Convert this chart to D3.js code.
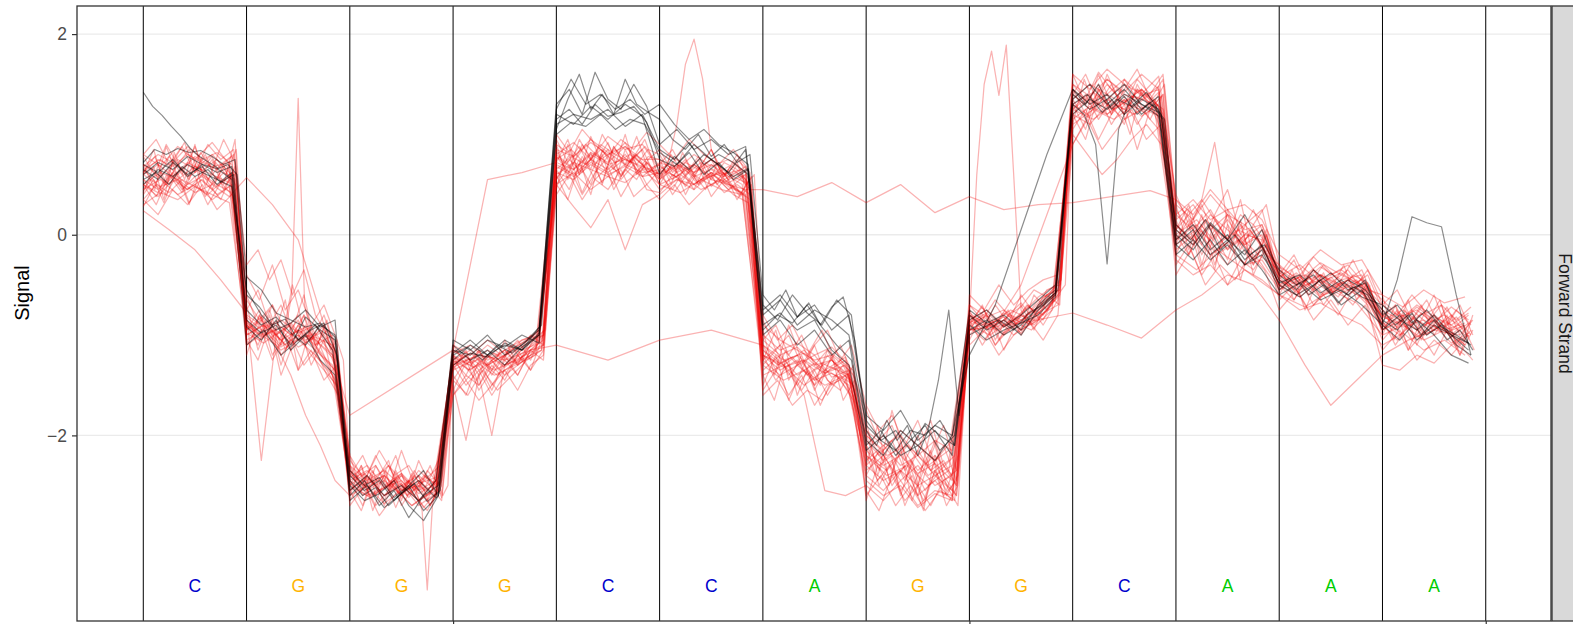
<!DOCTYPE html>
<html>
<head>
<meta charset="utf-8">
<script src="https://cdn.jsdelivr.net/npm/d3@7"></script>
<style>
  html, body { margin: 0; padding: 0; background: #fff; }
  svg { display: block; font-family: "Liberation Sans", Arial, Helvetica, sans-serif; }
</style>
</head>
<body>
<div id="chart"></div>
<script>
// reference sequence shown under the signal
const bases = ["C", "G", "G", "G", "C", "C", "A", "G", "G", "C", "A", "A", "A"];
const baseColors = { A: "#00CC00", C: "#0000CC", G: "#FFB300", T: "#CC0000" };
const yTicks = [-2, 0, 2];
const xTicks = [3, 8, 13];
const strandLabel = "Forward Strand";

// one entry per read, one inner array of raw signal per base
const blackReads = [
  [[1.42,1.28,1.19,1.08,0.98,0.86,0.78,0.72,0.66,0.7,0.6],
   [-0.42,-0.55,-0.78,-0.85,-0.92,-0.88,-1.02],
   [-2.45,-2.6,-2.52,-2.7,-2.58,-2.48,-2.66,-2.55],
   [-1.2,-1.12,-1.25,-1.1,-1.18,-1.05,-0.9],
   [1.05,1.35,1.6,1.25,1.4,1.2,1.55,1.3,1.22],
   [1.15,0.95,0.85,1.0,0.78,0.9,0.72,0.8],
   [-0.6,-0.75,-0.55,-0.82,-0.68,-0.9,-0.72,-0.62,-1.05],
   [-1.85,-2.05,-1.95,-2.15,-1.88,-2.0,-2.1],
   [-1.0,-0.92,-0.85,-0.95,-0.78,-0.7,-0.55],
   [1.45,1.3,1.5,1.25,1.38,1.2,1.32,1.15],
   [0.1,-0.05,0.15,-0.15,0.0,-0.2,-0.1],
   [-0.35,-0.5,-0.4,-0.6,-0.45,-0.55],
   [-0.75,-0.9,-0.8,-1.0,-0.85,-1.05,-0.95,-1.15]],
  [[0.72,0.85,0.8,0.86,0.82,0.84,0.78,0.7,0.75],
   [-0.6,-0.72,-0.9,-0.84,-1.05,-0.95,-0.88,-1.2],
   [-2.35,-2.5,-2.42,-2.62,-2.5,-2.75,-2.6],
   [-1.3,-1.18,-1.22,-1.08,-1.15,-1.0],
   [1.15,1.25,1.1,1.3,1.18,1.22,1.28,1.12],
   [0.75,0.68,0.82,0.6,0.72,0.55,0.65],
   [-0.95,-0.8,-0.88,-0.7,-0.92,-1.1,-1.25],
   [-2.1,-1.95,-2.2,-2.05,-1.9,-2.15,-2.0],
   [-0.9,-1.05,-0.95,-0.88,-0.8,-0.62],
   [1.3,1.4,1.22,1.35,1.28,1.42,1.2],
   [-0.1,0.05,-0.2,-0.05,-0.3,-0.15],
   [-0.55,-0.42,-0.6,-0.5,-0.68,-0.52,-0.6],
   [-0.85,-0.95,-0.78,-1.0,-0.9,-1.1,-1.2]],
  [[0.55,0.62,0.5,0.68,0.58,0.65,0.52,0.6],
   [-0.85,-0.98,-0.9,-1.1,-0.82,-0.95,-1.05],
   [-2.6,-2.45,-2.7,-2.55,-2.82,-2.6,-2.5],
   [-1.05,-1.15,-1.0,-1.2,-1.1,-0.95],
   [1.3,1.45,1.2,1.62,1.35,1.25,1.5,1.28],
   [0.9,1.05,0.85,0.95,0.8,0.88],
   [-0.7,-0.85,-0.6,-0.78,-0.9,-0.65,-0.8],
   [-1.95,-2.1,-1.85,-2.05,-1.9,-2.2,-1.95,-1.45,-0.75,-1.8],
   [-0.8,-0.95,-0.85,-1.0,-0.75,-0.6],
   [1.35,1.5,1.3,1.45,1.25,1.38],
   [0.05,-0.1,0.12,-0.05,0.2,-0.12],
   [-0.45,-0.6,-0.5,-0.38,-0.55,-0.48],
   [-0.8,-0.7,-0.88,-0.75,-0.92,-1.0,-1.1]],
  [[0.6,0.72,0.65,0.78,0.7,0.62,0.68],
   [-0.92,-1.05,-0.85,-1.15,-1.0,-1.25,-1.4],
   [-2.5,-2.65,-2.58,-2.45,-2.7,-2.85,-2.6],
   [-1.1,-1.25,-1.15,-1.3,-1.12,-1.0],
   [1.0,1.12,1.08,1.2,1.05,1.15,1.1],
   [0.82,0.7,0.9,0.75,0.62,0.85],
   [-1.0,-0.85,-1.1,-0.95,-1.2,-1.05],
   [-2.05,-2.2,-1.95,-2.1,-2.25,-2.0],
   [-1.2,-0.7,0.05,0.8],
   [1.45,1.3,1.4,1.2,1.35,1.25],
   [-0.05,0.1,-0.15,0.0,-0.25,-0.1],
   [-0.5,-0.62,-0.45,-0.7,-0.55],
   [-0.9,-1.05,-0.85,-1.0,-1.2,-1.28]],
  [[0.7,0.62,0.75,0.58,0.7,0.66,0.55],
   [-1.1,-0.95,-1.2,-1.05,-0.9,-1.15],
   [-2.4,-2.55,-2.45,-2.65,-2.5,-2.35,-2.6],
   [-1.18,-1.05,-1.2,-1.1,-1.15,-0.98],
   [1.2,1.1,1.28,1.15,1.3,1.18],
   [0.6,0.78,0.65,0.8,0.7,0.58,0.66],
   [-0.8,-0.65,-0.9,-0.75,-0.85,-1.0],
   [-1.9,-2.05,-2.15,-1.95,-2.0,-1.85,-2.1],
   [-0.85,-0.75,-0.92,-0.8,-0.65,-0.5],
   [1.3,1.2,0.9,-0.29,1.05,1.35,1.2,1.3,1.15],
   [0.0,-0.15,0.1,-0.05,-0.2,0.05],
   [-0.4,-0.55,-0.35,-0.5,-0.6,-0.45],
   [-0.95,-0.8,-1.05,-0.9,-1.0,-1.15]],
  [[0.65,0.55,0.72,0.6,0.68,0.5,0.62],
   [-0.75,-0.9,-0.82,-0.98,-1.1,-0.9,-1.0],
   [-2.55,-2.4,-2.6,-2.5,-2.65,-2.45],
   [-1.15,-1.2,-1.05,-1.12,-1.0,-1.08],
   [1.1,1.2,1.15,1.25,1.08,1.2],
   [0.85,0.75,0.92,0.7,0.8,0.72,0.6],
   [-0.9,-0.78,-0.95,-0.85,-1.15,-1.3],
   [-2.15,-2.0,-2.2,-2.1,-1.95,-2.2],
   [-0.95,-0.85,-1.0,-0.9,-0.72,-0.58],
   [1.2,1.35,1.25,1.4,1.3,1.18],
   [-0.1,-0.25,-0.05,-0.3,-0.15,-0.35],
   [-0.6,-0.48,-0.65,-0.55,-0.7],
   [-0.9,-0.45,0.18,0.12,0.08,-0.6,-1.2]],
  [[0.5,0.65,0.58,0.7,0.62,0.55,0.48],
   [-0.55,-0.8,-0.95,-0.88,-0.75,-0.92,-0.85],
   [-2.65,-2.5,-2.72,-2.58,-2.45,-2.62],
   [-1.25,-1.1,-1.2,-1.05,-1.15,-0.92],
   [1.25,1.55,1.3,1.4,1.25,1.35,1.2],
   [1.3,1.1,0.95,1.05,0.9,0.82,0.7],
   [-0.75,-0.6,-0.82,-0.7,-0.95,-0.8],
   [-1.8,-1.95,-1.75,-2.05,-1.9,-2.0],
   [-0.75,-0.88,-0.8,-0.95,-0.7,-0.55],
   [1.4,1.25,1.35,1.5,1.3,1.22],
   [-0.2,-0.05,-0.25,-0.1,-0.3,-0.2],
   [-0.48,-0.4,-0.58,-0.45,-0.62],
   [-0.7,-0.85,-0.95,-0.8,-1.0,-1.08]]
];

const redReads = [
  [[0.45,0.6,0.52,0.7,0.58,0.66,0.5,0.62,0.55],
   [-0.85,-0.95,-0.8,-1.0,-0.9,-1.05,-0.95,-0.6,1.36,-0.7,-0.98,-1.1,-0.92,-1.15,-1.05,-1.25],
   [-2.35,-2.5,-2.42,-2.3,-2.55,-2.4,-2.6,-2.45],
   [-1.3,-1.2,-1.35,-1.25,-1.15,-1.28,-1.1,-1.0],
   [0.55,0.75,0.62,0.82,0.7,0.6,0.78,0.65],
   [0.7,0.55,0.65,0.5,0.62,0.58,0.72,0.45],
   [-1.15,-1.3,-1.22,-1.4,-1.28,-1.35,-1.45],
   [-2.1,-2.3,-2.2,-2.45,-2.15,-2.35,-2.25,-2.5],
   [-0.9,-0.82,-0.95,-0.85,-0.72,-0.8,-0.6],
   [1.2,1.35,1.28,1.45,1.3,1.2,1.38],
   [0.1,-0.05,0.15,0.0,-0.1,0.05,-0.15],
   [-0.4,-0.5,-0.35,-0.55,-0.45,-0.6],
   [-0.8,-0.92,-0.75,-0.88,-0.95,-0.82,-1.0]],
  [[0.35,0.5,0.42,0.55,0.48,0.4,0.52,0.38],
   [-0.9,-1.05,-0.95,-1.1,-1.0,-1.2,-1.35,-1.5],
   [-2.3,-2.45,-2.38,-2.52,-2.4,-2.6,-2.48,-2.35,-2.55,-2.42,-2.65,-2.5,-2.38,-2.58,-2.75,-3.54,-2.7,-2.45,-2.6,-2.5],
   [-1.2,-1.35,-1.28,-1.4,-1.3,-1.22,-1.15],
   [0.8,0.68,0.9,0.75,0.85,0.72,0.95],
   [0.55,0.68,0.5,0.62,0.45,0.6],
   [-1.2,-1.35,-1.25,-1.5,-1.32,-1.4],
   [-2.3,-2.15,-2.4,-2.25,-2.55,-2.35,-2.2],
   [-0.95,-0.88,-1.0,-0.85,-0.78,-0.65],
   [1.4,1.25,1.5,1.32,1.45,1.28],
   [0.2,0.05,0.25,-0.05,0.1,-0.1],
   [-0.5,-0.38,-0.55,-0.42,-0.6,-0.48],
   [-0.9,-0.78,-0.95,-0.85,-1.02,-0.88]],
  [[0.62,0.75,0.68,0.8,0.72,0.65,0.78],
   [-0.95,-0.85,-1.0,-0.9,-1.08,-0.95,-1.15],
   [-2.5,-2.38,-2.55,-2.45,-2.62,-2.4,-2.5],
   [-1.25,-1.15,-1.3,-1.2,-1.08,-1.0],
   [0.6,0.72,0.65,0.58,0.7,0.62],
   [0.65,0.58,0.7,0.55,0.5,0.45],
   [0.45,0.38,0.52],
   [0.32,0.5,0.22],
   [0.38,0.25,0.3],
   [0.32,0.36,0.4,0.44],
   [0.35,0.1,-0.05,0.15,-0.1,0.05],
   [-0.45,-0.55,-0.4,-0.5,-0.35],
   [-0.85,-0.75,-0.9,-0.8,-0.95]],
  [[0.5,0.42,0.58,0.45,0.55,0.4,0.5],
   [-1.0,-0.9,-1.1,-0.95,-1.05,-1.2],
   [-2.4,-2.55,-2.45,-2.6,-2.35,-2.5],
   [-1.3,-1.2,-1.25,-1.15],
   [-1.1,-1.25],
   [-1.05,-0.95],
   [-1.1,-1.25,-1.18,-1.35,-1.22],
   [-2.0,-2.2,-2.1,-2.3,-2.15],
   [-0.8,-0.9,-0.75,-0.85,-0.65],
   [1.25,1.15,1.3,1.2,1.35],
   [-0.05,0.1,-0.15,0.0,-0.2],
   [-0.35,-0.48,-0.4,-0.55,-0.45],
   [-0.95,-0.85,-1.0,-0.9,-1.1]],
  [[0.6,0.48,0.55,0.42,0.5,0.38],
   [0.57,0.3,-0.05,-0.9],
   [-1.8],
   [-1.15,0.55,0.62],
   [0.72,0.65,0.8,0.7,0.75,0.68],
   [0.6,0.7,0.55,0.62,0.5],
   [-1.2,-1.3,-1.15,-1.38,-1.25],
   [-2.2,-2.35,-2.1,-2.4,-2.25],
   [-0.85,-0.95,-0.8,-0.9,-0.7],
   [1.3,1.42,1.25,1.38,1.3],
   [0.0,0.15,-0.1,0.05,-0.05],
   [-0.5,-0.4,-0.58,-0.45],
   [-0.82,-0.9,-0.78,-0.95,-0.88]],
  [[0.24,0.05,-0.15,-0.45],
   [-0.78,-2.25,-1.0,-1.15,-0.9,-1.2,-1.35],
   [-2.45,-2.6,-2.5,-2.7,-2.55],
   [-1.35,-1.25,-1.4,-1.3,-1.2],
   [0.5,0.62,0.45,0.58,0.52,0.65],
   [0.5,0.42,0.55,0.45,0.4],
   [-1.3,-1.45,-1.35,-1.5,-1.4],
   [-2.4,-2.55,-2.35,-2.6,-2.45,-2.65],
   [-0.9,-1.0,-0.85,-0.95,-0.75],
   [1.1,1.25,1.15,1.3,1.2],
   [-0.2,-0.35,-0.15,-0.3,-0.45],
   [-0.6,-0.72,-0.55,-0.68],
   [-1.0,-0.9,-1.05,-0.95,-1.1]],
  [[0.68,0.8,0.72,0.88,0.75,0.82,0.7],
   [-0.9,-1.0,-1.1,-1.4,-1.8,-2.1,-2.45],
   [-2.6,-2.5,-2.68,-2.55,-2.45,-2.6],
   [-1.5,-2.05,-1.4,-2.0,-1.3,-1.25,-1.15,-1.05],
   [0.85,0.78,0.92,0.8,0.88,0.75],
   [0.75,0.62,0.7,0.58,0.68,0.55],
   [-1.25,-1.1,-1.3,-1.2,-1.42,-1.35],
   [-2.25,-2.1,-2.3,-2.2,-2.4,-2.3],
   [-0.82,-0.92,-0.78,-0.88,-0.68,-0.52],
   [1.35,1.5,1.4,1.55,1.38,1.45],
   [0.15,0.3,0.05,0.2,-0.05,0.1],
   [-0.42,-0.3,-0.48,-0.38,-0.52],
   [-0.75,-0.85,-0.7,-0.82,-0.9,-0.78]],
  [[0.55,0.45,0.62,0.5,0.58,0.48,0.6],
   [-1.05,-0.95,-1.12,-1.0,-1.15,-1.3],
   [-2.38,-2.52,-2.4,-2.58,-2.48,-2.42],
   [-1.2,-1.3,-1.15,-1.25,-1.1,-0.95],
   [0.5,0.28,0.07,0.35,-0.15,0.3],
   [0.4,0.55,0.45,0.6,0.5,0.38],
   [-1.35,-1.2,-1.4,-1.28,-1.5,-1.38],
   [-2.0,-2.15,-1.95,-2.1,-2.25,-2.05],
   [-0.78,-0.9,-0.82,-0.95,-0.85,-0.62],
   [1.2,1.1,1.3,1.15,1.25,1.05],
   [-0.1,0.05,-0.2,-0.05,-0.25],
   [-0.55,-0.45,-0.62,-0.5,-0.58],
   [-0.88,-1.0,-0.85,-0.95,-0.8,-1.02]],
  [[0.7,0.58,0.75,0.65,0.8,0.62],
   [-0.82,-0.95,-0.88,-1.0,-0.92,-1.1,-1.25],
   [-2.55,-2.42,-2.6,-2.5,-2.65,-2.45],
   [-1.15,-1.28,-1.2,-1.32,-1.18,-1.05],
   [0.65,0.78,0.7,0.85,0.72,0.8,0.68],
   [0.6,0.72,1.1,1.7,1.95,1.55,0.85,0.65,0.55,0.7,0.5,0.6],
   [-1.05,-1.2,-1.12,-1.3,-1.25,-1.4],
   [-2.35,-2.2,-2.45,-2.3,-2.5,-2.4],
   [-0.92,-0.8,-0.98,-0.85,-0.72,-0.6],
   [1.45,1.3,1.55,1.4,1.35,1.48],
   [0.05,-0.1,0.1,-0.15,0.0,-0.05],
   [-0.38,-0.5,-0.32,-0.45,-0.4],
   [-0.92,-0.8,-0.98,-0.85,-1.0]],
  [[0.5,0.62,0.55,0.68,0.6,0.52],
   [-0.88,-1.0,-0.92,-1.05,-0.98,-1.2],
   [-2.3,-2.45,-2.35,-2.5,-2.4,-2.55],
   [-1.28,-1.18,-1.3,-1.2,-1.12,-1.02],
   [0.7,0.6,0.75,0.65,0.8,0.58],
   [0.62,0.7,0.58,0.65,0.52,0.6],
   [-1.1,-1.3,-1.6,-2.55,-2.6],
   [-2.5,-2.65,-2.45,-2.7,-2.55,-2.6],
   [-0.85,0.6,1.5,1.83,1.39,1.89,0.6,-0.75,-0.9,-0.8,-0.85,-0.7,-0.6,-0.5],
   [1.3,1.18,1.35,1.25,1.4,1.22],
   [0.1,-0.05,0.2,0.05,-0.1,0.0],
   [-0.45,-0.58,-0.4,-0.52,-0.62],
   [-0.8,-0.92,-0.85,-0.98,-0.9]],
  [[0.45,0.55,0.4,0.5,0.35,0.48],
   [-1.1,-0.98,-1.15,-1.05,-1.2,-1.4],
   [-2.5,-2.62,-2.48,-2.7,-2.55],
   [-1.22,-1.32,-1.18,-1.28,-1.1],
   [0.9,0.78,0.95,0.82,0.7,0.85],
   [0.5,0.6,0.45,0.55,0.42],
   [-1.4,-1.3,-1.5,-1.35,-1.45],
   [-2.2,-2.4,-2.3,-2.5,-2.35],
   [-0.95,-0.88],
   [-0.78,-0.9,-1.03],
   [-0.75,-0.6,-0.4,-0.5],
   [-0.85,-1.3,-1.7,-1.45],
   [-1.2,-1.05,-0.95,-1.0]],
  [[0.8,0.68,0.88,0.75,0.92,0.7],
   [-0.95,-0.82,-1.0,-0.88,-1.05,-0.98,-1.3],
   [-2.42,-2.3,-2.5,-2.38,-2.55,-2.45],
   [-1.18,-1.1,-1.25,-1.15,-1.05,-0.98],
   [0.62,0.55,0.7,0.6,0.68,0.58],
   [0.72,0.65,0.8,0.68,0.75,0.62],
   [-0.9,-1.05,-1.15,-1.25,-1.2,-1.35],
   [-2.05,-2.25,-2.1,-2.35,-2.2,-2.4],
   [-0.7,-0.82,-0.75,-0.88,-0.65,-0.55],
   [1.25,1.38,1.2,1.32,1.45,1.28],
   [0.05,0.2,0.35,0.92,0.1,-0.1,0.05,-0.2],
   [-0.5,-0.62,-0.45,-0.58,-0.5],
   [-1.3,-1.35,-1.2,-1.28,-1.1,-1.0]],
  [[0.3,0.42,0.35,0.48,0.4,0.32],
   [-0.98,-1.08,-0.95,-1.12,-1.02,-1.1],
   [-2.35,-2.48,-2.4,-2.55,-2.5,-2.62],
   [-1.32,-1.22,-1.35,-1.25,-1.15],
   [0.75,0.85,0.7,0.9,0.8,0.72,0.88],
   [0.68,0.55,0.72,0.6,0.65],
   [-1.25,-1.4,-1.3,-1.45,-1.38,-1.5],
   [-2.45,-2.6,-2.5,-2.72,-2.58,-2.65],
   [-0.88,-0.78,-0.92,-0.82,-0.75,-0.6],
   [1.0,0.8,0.6,0.75,0.95,1.1,0.9],
   [0.2,0.35,0.15,0.25,0.05,0.1],
   [-0.32,-0.45,-0.28,-0.4,-0.5],
   [-0.7,-0.82,-0.75,-0.88,-0.72,-0.85]],
  [[0.6,0.7,0.58,0.72,0.64,0.75,0.55],
   [-0.8,-0.92,-0.85,-0.98,-0.9,-1.15],
   [-2.45,-2.35,-2.52,-2.4,-2.58,-2.48],
   [-1.25,-1.35,-1.2,-1.3,-1.15,-1.08],
   [0.68,0.58,0.72,0.62,0.76,0.66],
   [0.58,0.7,0.62,0.75,0.6,0.52],
   [-1.2,-1.32,-1.25,-1.38,-1.3],
   [-2.15,-2.3,-2.2,-2.38,-2.28,-2.45],
   [-0.95,-0.9,-0.5,0.2],
   [0.9,1.22,1.4,1.3,1.25,1.42],
   [-0.15,0.0,-0.2,-0.08,-0.3,-0.25],
   [-0.52,-0.42,-0.6,-0.48,-0.55],
   [-0.95,-0.85,-1.02,-0.9,-1.08,-0.98]],
  [[0.5,0.38,0.55,0.45,0.6,0.5,0.42],
   [-0.9,-1.02,-0.95,-1.08,-1.0,-1.18,-1.45],
   [-2.55,-2.4,-2.6,-2.48,-2.7,-2.58],
   [-1.1,-1.2,-1.05,-1.18,-1.08,-0.95],
   [0.78,0.65,0.82,0.72,0.88,0.7],
   [0.45,0.55,0.5,0.62,0.48,0.4],
   [-1.15,-1.28,-1.2,-1.35,-1.25,-1.42],
   [-2.3,-2.45,-2.35,-2.5,-2.4,-2.55],
   [-0.8,-0.92,-0.85,-0.98,-0.7,-0.58],
   [1.15,1.28,1.2,1.35,1.18,1.3],
   [0.3,0.15,0.4,0.2,0.1,0.25],
   [-0.4,-0.52,-0.45,-0.35,-0.5],
   [-0.78,-0.88,-0.72,-0.85,-0.95,-0.8]],
  [[0.65,0.75,0.6,0.78,0.68,0.72],
   [-1.0,-0.9,-1.05,-0.95,-1.1,-1.0],
   [-2.48,-2.6,-2.52,-2.45,-2.65,-2.55],
   [-1.15,-1.25,-1.1,-1.22,-1.05,-1.0],
   [0.8,0.92,0.75,0.98,0.85,0.9],
   [0.65,0.75,0.62,0.7,0.58,0.68],
   [-1.0,-1.15,-1.08,-1.2,-1.12,-1.3],
   [-1.95,-2.1,-2.0,-2.2,-2.05,-2.15],
   [-0.85,-0.75,-0.9,-0.8,-0.62,-0.5],
   [1.5,1.38,1.55,1.42,1.6,1.45],
   [-0.25,-0.4,-0.3,-0.5,-0.35,-0.45],
   [-0.6,-0.75,-0.68,-0.8,-0.9],
   [-1.1,-0.98,-1.15,-1.05,-1.2]],
  [[0.42,0.68,0.35,0.82,0.55,0.9,0.48,0.72,0.6,0.85],
   [-0.7,-1.15,-0.85,-1.3,-0.95,-0.6,-1.1,-1.25,-1.4],
   [-2.2,-2.55,-2.35,-2.7,-2.4,-2.6,-2.25,-2.5,-2.65],
   [-1.55,-1.3,-1.45,-1.2,-1.35,-1.1,-1.25,-1.05,-0.95],
   [0.45,0.9,0.6,0.98,0.7,0.5,0.85,0.62,0.78],
   [0.75,0.5,0.82,0.6,0.45,0.7,0.55,0.38,0.5],
   [-0.95,-1.4,-1.15,-1.6,-1.3,-1.5,-1.2,-1.65,-1.45],
   [-1.85,-2.4,-2.1,-2.6,-2.25,-2.7,-2.35,-2.55,-2.2],
   [-1.05,-0.8,-1.1,-0.9,-0.7,-0.95,-0.65,-0.55],
   [1.1,1.55,1.25,1.6,1.35,1.0,1.45,1.3,1.5],
   [0.3,-0.15,0.2,-0.3,0.1,-0.45,0.0,-0.2],
   [-0.3,-0.65,-0.4,-0.7,-0.5,-0.25,-0.55],
   [-0.6,-1.05,-0.75,-1.1,-0.85,-0.65,-1.0,-0.9,-1.15]],
  [[0.7,0.45,0.88,0.58,0.3,0.65,0.78,0.5,0.95],
   [-1.2,-0.8,-1.05,-0.65,-1.35,-0.9,-1.2,-1.5],
   [-2.6,-2.3,-2.75,-2.45,-2.2,-2.55,-2.4,-2.7,-2.5],
   [-1.4,-1.6,-1.25,-1.5,-1.3,-1.15,-1.35,-1.0],
   [0.9,0.55,0.75,0.4,0.85,0.65,1.0,0.6,0.72],
   [0.5,0.72,0.4,0.65,0.85,0.55,0.62,0.48],
   [-1.5,-1.2,-1.65,-1.35,-1.1,-1.45,-1.55,-1.3],
   [-2.65,-2.3,-2.5,-2.05,-2.45,-2.75,-2.2,-2.6,-2.4],
   [-0.75,-1.0,-0.85,-1.15,-0.9,-0.7,-0.8,-0.6,-0.45],
   [1.45,1.2,1.6,1.3,1.1,1.5,1.25,1.4],
   [-0.1,0.25,-0.3,0.15,-0.05,0.35,-0.25,0.05],
   [-0.6,-0.35,-0.75,-0.45,-0.55,-0.3,-0.65,-0.5],
   [-1.0,-0.7,-1.15,-0.85,-0.6,-0.95,-1.2,-0.8]],
  [[0.28,0.5,0.4,0.62,0.32,0.55,0.45,0.7,0.38],
   [-0.95,-0.75,-1.2,-1.0,-0.85,-1.3,-1.05,-1.6],
   [-2.45,-2.7,-2.3,-2.55,-2.15,-2.5,-2.65,-2.35],
   [-1.2,-1.45,-1.3,-1.55,-1.25,-1.4,-1.15,-1.1],
   [0.6,0.35,0.7,0.5,0.8,0.45,0.65,0.55,0.75],
   [0.85,0.62,0.75,0.5,0.7,0.58,0.8,0.52],
   [-1.1,-1.35,-0.9,-1.25,-1.5,-1.15,-1.4,-1.6],
   [-2.0,-2.35,-1.75,-2.2,-2.5,-1.95,-2.4,-2.6],
   [-0.9,-0.7,-1.05,-0.8,-0.95,-0.6,-0.75,-0.5],
   [1.2,0.95,1.4,1.1,1.3,0.85,1.25,1.15],
   [0.15,-0.2,0.05,-0.35,0.25,-0.1,-0.3,0.0],
   [-0.45,-0.25,-0.6,-0.38,-0.7,-0.5,-0.4],
   [-0.75,-0.95,-0.65,-1.05,-0.8,-0.9,-0.7,-1.0]],
  [[0.6,0.85,0.5,0.75,0.92,0.62,0.8,0.55,0.7,0.48],
   [-0.6,-0.9,-0.75,-1.1,-0.5,-0.95,-1.15,-0.85,-1.3],
   [-2.35,-2.6,-2.45,-2.25,-2.7,-2.5,-2.4,-2.58],
   [-1.35,-1.15,-1.5,-1.25,-1.4,-1.2,-1.0,-1.1],
   [0.72,0.95,0.6,0.82,0.5,0.88,0.7,0.98,0.65],
   [0.55,0.8,0.62,0.45,0.7,0.5,0.65,0.4,0.58],
   [-1.25,-0.95,-1.45,-1.2,-1.55,-1.3,-1.1,-1.4],
   [-2.3,-1.9,-2.45,-2.15,-2.65,-2.35,-2.05,-2.5,-2.7],
   [-0.85,-1.1,-0.9,-0.75,-1.0,-0.8,-0.6,-0.7],
   [1.6,1.3,1.5,1.2,1.45,1.65,1.35,1.25],
   [0.4,0.1,0.3,-0.05,0.2,-0.15,0.1,-0.1],
   [-0.35,-0.55,-0.28,-0.5,-0.62,-0.4,-0.48],
   [-0.85,-1.1,-0.9,-0.7,-1.0,-0.8,-1.2,-0.95]],
  [[0.5,0.3,0.6,0.42,0.75,0.52,0.35,0.65],
   [-1.05,-1.25,-0.9,-1.4,-1.1,-0.8,-1.2,-1.35,-1.55],
   [-2.5,-2.3,-2.6,-2.4,-2.72,-2.45,-2.55,-2.3,-2.62],
   [-1.45,-1.25,-1.55,-1.35,-1.2,-1.4,-1.15,-1.25],
   [0.55,0.8,0.42,0.7,0.92,0.58,0.75,0.5],
   [0.65,0.4,0.58,0.75,0.48,0.62,0.35,0.55],
   [-1.4,-1.65,-1.25,-1.5,-1.35,-1.7,-1.45,-1.3,-1.55],
   [-2.1,-2.5,-2.25,-2.7,-2.4,-2.15,-2.6,-2.45],
   [-0.95,-0.75,-1.05,-0.85,-0.7,-0.9,-0.65],
   [1.3,1.05,1.45,1.2,1.55,1.35,1.15,1.4],
   [-0.2,0.1,-0.35,0.0,-0.25,0.15,-0.4,-0.1],
   [-0.55,-0.4,-0.7,-0.48,-0.35,-0.6],
   [-0.95,-0.75,-1.05,-0.88,-0.7,-1.1,-0.85]],
  [[0.78,0.6,0.9,0.7,0.55,0.82,0.65,0.95,0.72],
   [-0.85,-1.0,-0.7,-1.15,-0.9,-1.05,-0.8,-1.2],
   [-2.3,-2.5,-2.2,-2.45,-2.6,-2.35,-2.55,-2.4],
   [-1.25,-1.4,-1.15,-1.35,-1.05,-1.3,-1.2,-1.0],
   [0.85,0.6,0.95,0.75,0.52,0.88,0.68,0.8,0.62],
   [0.7,0.85,0.6,0.78,0.55,0.72,0.65,0.5],
   [-0.85,-1.15,-1.0,-1.3,-1.1,-0.95,-1.25,-1.4],
   [-1.75,-2.05,-1.9,-2.25,-2.0,-2.35,-2.1,-2.45],
   [-0.8,-0.95,-0.7,-0.88,-0.6,-0.78,-0.55,-0.5],
   [1.4,1.6,1.3,1.5,1.2,1.45,1.35,1.55],
   [0.05,0.3,-0.1,0.2,0.45,0.0,0.25,-0.05],
   [-0.4,-0.2,-0.5,-0.3,-0.45,-0.55,-0.35],
   [-0.7,-0.55,-0.85,-0.65,-0.95,-0.75,-0.9]],
  [[0.4,0.55,0.32,0.6,0.45,0.7,0.38,0.58,0.5,0.62],
   [-1.1,-0.9,-1.25,-1.0,-1.35,-1.15,-1.45,-1.3],
   [-2.55,-2.75,-2.45,-2.65,-2.35,-2.6,-2.5,-2.7,-2.45],
   [-1.6,-1.4,-1.5,-1.3,-1.45,-1.2,-1.35,-1.15],
   [0.5,0.68,0.4,0.62,0.78,0.55,0.7,0.45],
   [0.42,0.6,0.5,0.68,0.38,0.55,0.45,0.35],
   [-1.55,-1.35,-1.6,-1.4,-1.7,-1.5,-1.45,-1.65],
   [-2.55,-2.75,-2.4,-2.65,-2.5,-2.7,-2.45,-2.6],
   [-1.0,-0.85,-1.1,-0.95,-0.8,-0.9,-0.75,-0.6],
   [1.05,1.25,0.95,1.2,1.35,1.1,1.3,1.0],
   [-0.3,-0.1,-0.4,-0.2,-0.5,-0.25,-0.35,-0.15],
   [-0.65,-0.5,-0.75,-0.6,-0.8,-0.55,-0.7],
   [-1.05,-0.9,-1.15,-1.0,-1.2,-0.95,-1.1,-1.25]],
  [[0.62,0.78,0.5,0.7,0.85,0.58,0.75,0.45,0.68],
   [-0.75,-0.55,-0.9,-0.7,-1.0,-0.8,-1.1,-0.95,-1.25],
   [-2.4,-2.2,-2.5,-2.3,-2.45,-2.6,-2.35,-2.5],
   [-1.1,-1.3,-1.15,-1.4,-1.2,-1.05,-1.25,-0.95],
   [0.95,0.72,0.88,0.65,1.0,0.8,0.92,0.7,0.85],
   [0.8,0.58,0.72,0.65,0.85,0.6,0.75,0.62],
   [-1.05,-0.9,-1.2,-1.0,-1.3,-1.15,-1.25,-1.35],
   [-1.95,-2.2,-2.05,-2.35,-2.15,-1.85,-2.3,-2.5],
   [-0.7,-0.85,-0.65,-0.8,-0.72,-0.55,-0.62,-0.45],
   [1.5,1.35,1.62,1.45,1.3,1.55,1.4,1.6],
   [0.25,0.05,0.35,0.15,-0.05,0.2,0.1,0.3],
   [-0.3,-0.45,-0.22,-0.4,-0.3,-0.5],
   [-0.65,-0.8,-0.6,-0.78,-0.7,-0.85,-0.72]],
  [[0.55,0.38,0.65,0.45,0.58,0.3,0.52,0.62],
   [-0.9,-1.1,-0.8,-1.2,-1.05,-1.3,-1.15,-1.4,-1.6],
   [-2.65,-2.45,-2.7,-2.55,-2.4,-2.6,-2.75,-2.5],
   [-1.3,-1.5,-1.35,-1.6,-1.4,-1.3,-1.2,-1.1],
   [0.65,0.45,0.78,0.55,0.68,0.38,0.6,0.72],
   [0.6,0.45,0.68,0.52,0.58,0.42,0.5,0.4],
   [-1.2,-1.45,-1.3,-1.55,-1.35,-1.6,-1.4,-1.5],
   [-2.2,-2.45,-2.3,-2.55,-2.4,-2.65,-2.35,-2.7,-2.5],
   [-0.92,-1.05,-0.85,-1.0,-0.9,-0.78,-0.7],
   [1.25,1.4,1.15,1.35,1.2,1.45,1.3,1.1],
   [0.0,-0.2,0.1,-0.15,-0.3,-0.05,-0.25,-0.1],
   [-0.5,-0.65,-0.42,-0.6,-0.55,-0.7,-0.48],
   [-0.9,-1.05,-0.82,-1.0,-0.88,-1.12,-0.95]],
  [[0.65,0.52,0.78,0.6,0.88,0.55,0.7,0.8],
   [-0.65,-0.85,-0.7,-0.95,-0.8,-1.05,-0.9,-1.1],
   [-2.25,-2.4,-2.3,-2.5,-2.38,-2.55,-2.42,-2.3],
   [-1.3,-1.2,-1.4,-1.25,-1.15,-1.3,-1.05,-1.0],
   [0.78,0.62,0.9,0.7,0.85,0.58,0.8,0.72],
   [0.55,0.7,0.48,0.65,0.75,0.52,0.6,0.45],
   [-1.3,-1.15,-1.4,-1.25,-1.45,-1.2,-1.35,-1.5],
   [-2.4,-2.15,-2.5,-2.3,-2.6,-2.2,-2.45,-2.35],
   [-0.88,-0.72,-0.95,-0.8,-0.68,-0.85,-0.6,-0.55],
   [1.35,1.15,1.45,1.25,1.5,1.3,1.4,1.2],
   [-0.05,0.15,-0.2,0.05,-0.15,0.1,-0.3,0.0],
   [-0.42,-0.58,-0.35,-0.52,-0.45,-0.62],
   [-0.82,-0.7,-0.95,-0.78,-0.9,-0.72,-1.0,-0.85]],
  [[0.8,0.95,0.7,0.88,0.62,0.9,0.75,0.85],
   [-0.3,-0.15,-0.45,-0.25,-0.6,-0.35,-0.8,-1.0,-1.3],
   [-2.2,-2.45,-2.15,-2.4,-2.3,-2.55,-2.25],
   [-1.6,-1.45,-1.65,-1.5,-1.35,-1.55,-1.3,-1.2],
   [0.4,0.6,0.35,0.55,0.45,0.65,0.38,0.5],
   [0.35,0.5,0.3,0.45,0.55,0.4,0.32],
   [-0.8,-1.05,-0.9,-1.2,-0.95,-1.3,-1.1],
   [-1.7,-1.95,-1.8,-2.1,-1.85,-2.2,-1.9,-2.35],
   [-1.1,-0.95,-1.2,-1.0,-0.85,-1.05,-0.8],
   [0.9,1.15,0.85,1.05,1.25,0.95,1.1],
   [-0.4,-0.15,-0.5,-0.3,-0.45,-0.2,-0.35],
   [-0.75,-0.55,-0.85,-0.65,-0.9,-0.7],
   [-1.15,-0.95,-1.25,-1.05,-1.2,-1.0]],
  [[0.35,0.2,0.45,0.3,0.5,0.25,0.4],
   [-0.4,-0.65,-0.3,-0.75,-0.55,-0.9,-0.7,-1.05],
   [-2.7,-2.5,-2.8,-2.6,-2.45,-2.72,-2.55],
   [-1.45,-1.6,-1.35,-1.55,-1.4,-1.25,-1.15],
   [1.0,0.82,1.05,0.9,0.78,0.95,0.85,1.02],
   [0.9,0.75,0.95,0.8,0.7,0.85,0.65],
   [-1.6,-1.45,-1.7,-1.55,-1.65,-1.4,-1.6],
   [-2.6,-2.4,-2.7,-2.5,-2.75,-2.55,-2.65],
   [-0.6,-0.75,-0.5,-0.7,-0.55,-0.45,-0.4],
   [1.6,1.45,1.65,1.5,1.4,1.58],
   [0.35,0.2,0.45,0.25,0.3,0.15],
   [-0.2,-0.35,-0.15,-0.3,-0.25],
   [-0.6,-0.72,-0.55,-0.68,-0.62]]
];

const width = 1573;
const height = 624;
const panel = { left: 77, right: 1551, top: 6, bottom: 621 };
const fontSize = 17.5;

const x = d3.scaleLinear().domain([-0.642, 13.632]).range([panel.left, panel.right]);
const y = d3.scaleLinear().domain([-3.85, 2.28]).range([panel.bottom, panel.top]);

// spread the samples of each base evenly over that base's slot
function readPoints(read) {
  const pts = [];
  read.forEach((seg, i) => {
    seg.forEach((v, j) => pts.push([i + j / seg.length, v]));
  });
  return pts;
}

const line = d3.line().x(d => x(d[0])).y(d => y(d[1]));

const svg = d3.select("#chart")
  .append("svg")
  .attr("width", width)
  .attr("height", height);

svg.append("defs")
  .append("clipPath")
  .attr("id", "panel-clip")
  .append("rect")
  .attr("x", panel.left)
  .attr("y", panel.top)
  .attr("width", panel.right - panel.left)
  .attr("height", panel.bottom - panel.top);

// gridlines
svg.append("g")
  .selectAll("line")
  .data(yTicks)
  .enter()
  .append("line")
  .attr("x1", panel.left)
  .attr("x2", panel.right)
  .attr("y1", d => y(d))
  .attr("y2", d => y(d))
  .style("stroke", "#ebebeb")
  .style("stroke-width", 1.4);

// base boundaries
svg.append("g")
  .selectAll("line")
  .data(d3.range(bases.length + 1))
  .enter()
  .append("line")
  .attr("x1", d => x(d))
  .attr("x2", d => x(d))
  .attr("y1", panel.top)
  .attr("y2", panel.bottom)
  .style("stroke", "#000")
  .style("stroke-width", 1);

const traces = svg.append("g").attr("clip-path", "url(#panel-clip)");

traces.selectAll(".red")
  .data(redReads)
  .enter()
  .append("path")
  .attr("class", "red")
  .attr("d", d => line(readPoints(d)))
  .style("fill", "none")
  .style("stroke", "#f00000")
  .style("stroke-opacity", 0.3)
  .style("stroke-width", 1.25)
  .style("stroke-linejoin", "round");

traces.selectAll(".black")
  .data(blackReads)
  .enter()
  .append("path")
  .attr("class", "black")
  .attr("d", d => line(readPoints(d)))
  .style("fill", "none")
  .style("stroke", "#000")
  .style("stroke-opacity", 0.45)
  .style("stroke-width", 1.2)
  .style("stroke-linejoin", "round");

// base letters
svg.append("g")
  .selectAll("text")
  .data(bases)
  .enter()
  .append("text")
  .attr("x", (d, i) => x(i + 0.5))
  .attr("y", y(-3.5))
  .attr("text-anchor", "middle")
  .attr("dominant-baseline", "central")
  .style("font-size", fontSize + "px")
  .style("fill", d => baseColors[d])
  .text(d => d);

// panel border
svg.append("rect")
  .attr("x", panel.left)
  .attr("y", panel.top)
  .attr("width", panel.right - panel.left)
  .attr("height", panel.bottom - panel.top)
  .style("fill", "none")
  .style("stroke", "#333")
  .style("stroke-width", 1.3);

// axes
const yAxis = svg.append("g")
  .attr("transform", `translate(${panel.left},0)`)
  .call(d3.axisLeft(y)
    .tickValues(yTicks)
    .tickSize(5)
    .tickPadding(5)
    .tickFormat(d => (d < 0 ? "\u2212" + Math.abs(d) : String(d))));
yAxis.select(".domain").remove();
yAxis.selectAll(".tick line").style("stroke", "#333").style("stroke-width", 1.2);
yAxis.selectAll(".tick text")
  .style("font-size", fontSize + "px")
  .style("font-family", "Liberation Sans, Arial, sans-serif")
  .style("fill", "#4d4d4d");

const xAxis = svg.append("g")
  .attr("transform", `translate(0,${panel.bottom})`)
  .call(d3.axisBottom(x).tickValues(xTicks).tickSize(5).tickFormat(""));
xAxis.select(".domain").remove();
xAxis.selectAll(".tick line").style("stroke", "#333").style("stroke-width", 1.2);

svg.append("text")
  .attr("transform", "translate(22,293) rotate(-90)")
  .attr("text-anchor", "middle")
  .attr("dominant-baseline", "central")
  .style("font-size", "20px")
  .style("fill", "#000")
  .text("Signal");

// facet strip
svg.append("rect")
  .attr("x", panel.right + 1)
  .attr("y", panel.top)
  .attr("width", 40)
  .attr("height", panel.bottom - panel.top)
  .style("fill", "#d9d9d9")
  .style("stroke", "#333")
  .style("stroke-width", 1.3);

svg.append("text")
  .attr("transform", `translate(1565,${(panel.top + panel.bottom) / 2}) rotate(90)`)
  .attr("text-anchor", "middle")
  .attr("dominant-baseline", "central")
  .style("font-size", fontSize + "px")
  .style("fill", "#1a1a1a")
  .text(strandLabel);
</script>
</body>
</html>
